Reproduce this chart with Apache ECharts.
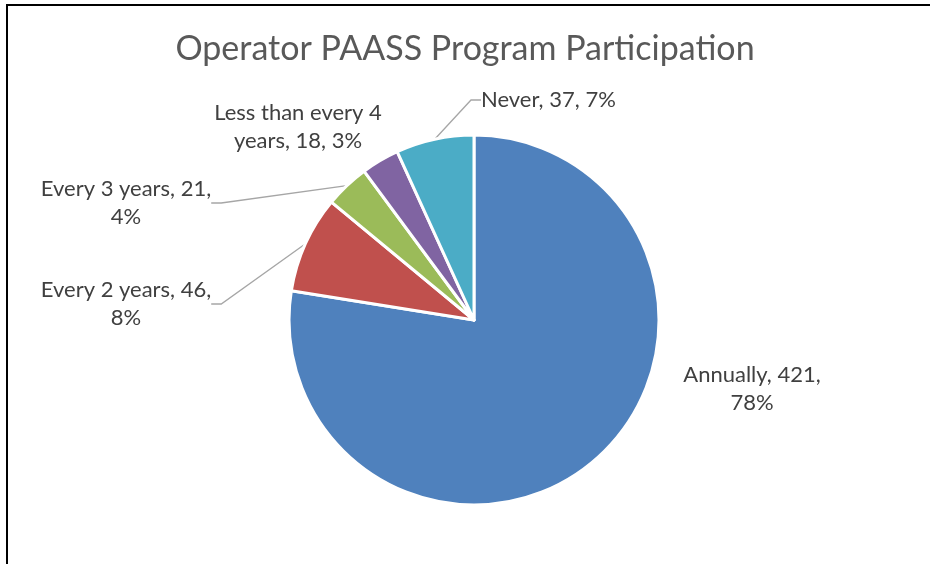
<!DOCTYPE html>
<html>
<head>
<meta charset="utf-8">
<script src="https://cdn.jsdelivr.net/npm/echarts@6/dist/echarts.min.js"></script>
<style>html,body{margin:0;padding:0;background:#fff;}#c{width:930px;height:564px;}</style>
</head>
<body>
<div id="c"></div>
<script>
var titleText = 'Operator PAASS Program Participation';
var categories = ['Annually', 'Every 2 years', 'Every 3 years', 'Less than every 4 years', 'Never'];
var counts = [421, 46, 21, 18, 37];
var percents = ['78%', '8%', '4%', '3%', '7%'];
var colors = ['#4F81BD', '#C0504D', '#9BBB59', '#8064A2', '#4BACC6'];

var labelText = [
  'Annually, 421,\n78%',
  'Every 2 years, 46,\n8%',
  'Every 3 years, 21,\n4%',
  'Less than every 4\nyears, 18, 3%',
  'Never, 37, 7%'
];
var labelPos = [
  {x: 752, y: 389, align: 'center'},
  {x: 126, y: 304, align: 'center'},
  {x: 126, y: 203, align: 'center'},
  {x: 298, y: 127, align: 'center'},
  {x: 481, y: 100, align: 'left'}
];
var showLine = [false, true, true, false, true];

var FONT = 'Lato, "Open Sans", sans-serif';
var chart = echarts.init(document.getElementById('c'), null, {renderer: 'canvas'});
chart.setOption({
  backgroundColor: '#fff',
  animation: false,
  title: {
    text: titleText,
    left: 'center',
    top: 27,
    textStyle: {fontFamily: FONT, fontSize: 34, fontWeight: 'normal', color: '#595959'}
  },
  graphic: [
    {type: 'line', shape: {x1: 7, y1: 5, x2: 930, y2: 5}, style: {stroke: '#000', lineWidth: 2}},
    {type: 'line', shape: {x1: 7, y1: 4, x2: 7, y2: 564}, style: {stroke: '#000', lineWidth: 2}}
  ],
  series: [{
    type: 'pie',
    center: [474, 320],
    radius: [0, 185],
    startAngle: 90,
    clockwise: true,
    data: categories.map(function (c, i) {
      return {
        name: c,
        value: counts[i],
        itemStyle: {color: colors[i]},
        label: {formatter: labelText[i]},
        labelLine: {show: showLine[i]}
      };
    }),
    itemStyle: {borderColor: '#fff', borderWidth: 3},
    label: {
      show: true,
      fontFamily: FONT,
      fontSize: 22,
      lineHeight: 28,
      color: '#404040',
      align: 'center'
    },
    labelLine: {show: true, lineStyle: {color: '#A6A6A6', width: 1.3}, length: 10, length2: 10},
    labelLayout: function (p) {
      var lp = labelPos[p.dataIndex];
      return {x: lp.x, y: lp.y, align: lp.align, verticalAlign: 'middle', hideOverlap: false};
    }
  }]
});
</script>
</body>
</html>
